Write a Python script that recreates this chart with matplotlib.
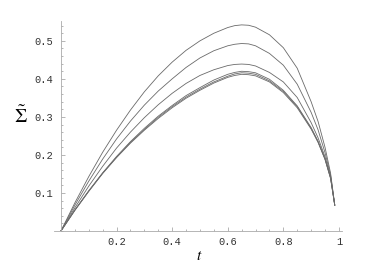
import matplotlib
matplotlib.use("Agg")
import matplotlib.pyplot as plt
from matplotlib.ticker import MultipleLocator

plt.rcParams['mathtext.fontset'] = 'stix'

# values
t = [0, 0.05, 0.1, 0.15, 0.2, 0.25, 0.3, 0.35, 0.4, 0.45, 0.5, 0.55, 0.6,
     0.625, 0.65, 0.675, 0.7, 0.75, 0.8, 0.85, 0.9, 0.925, 0.95, 0.97, 0.985]

s1 = [0, 0.074, 0.143, 0.207, 0.265, 0.318, 0.366, 0.408, 0.444, 0.475, 0.500,
      0.520, 0.535, 0.540, 0.542, 0.541, 0.536, 0.516, 0.482, 0.428, 0.340,
      0.288, 0.220, 0.152, 0.068]
s2 = [0, 0.068, 0.131, 0.189, 0.242, 0.289, 0.331, 0.368, 0.400, 0.430, 0.455,
      0.474, 0.487, 0.491, 0.493, 0.492, 0.487, 0.467, 0.436, 0.386, 0.312,
      0.266, 0.206, 0.147, 0.068]
s3 = [0, 0.061, 0.118, 0.170, 0.218, 0.260, 0.298, 0.332, 0.362, 0.388, 0.409,
      0.424, 0.435, 0.438, 0.439, 0.438, 0.434, 0.417, 0.392, 0.351, 0.285,
      0.245, 0.195, 0.143, 0.068]
s4 = [0, 0.055, 0.106, 0.153, 0.196, 0.235, 0.270, 0.302, 0.330, 0.356, 0.377,
      0.397, 0.412, 0.417, 0.420, 0.419, 0.416, 0.399, 0.370, 0.329, 0.272,
      0.236, 0.190, 0.140, 0.068]
s5 = [0, 0.055, 0.105, 0.152, 0.194, 0.233, 0.267, 0.299, 0.327, 0.352, 0.373,
      0.392, 0.407, 0.413, 0.416, 0.415, 0.412, 0.395, 0.367, 0.327, 0.270,
      0.234, 0.189, 0.139, 0.068]
s6 = [0, 0.054, 0.104, 0.151, 0.193, 0.231, 0.265, 0.296, 0.324, 0.349, 0.370,
      0.389, 0.404, 0.409, 0.412, 0.411, 0.408, 0.392, 0.364, 0.324, 0.268,
      0.233, 0.188, 0.138, 0.068]

fig = plt.figure(figsize=(3.66, 2.74), dpi=100)
ax = fig.add_axes([54 / 366, 43 / 274, 287.7 / 366, 210.3 / 274])

for s in [s1, s2, s3, s4, s5, s6]:
    ax.plot(t, s, color='#6a6a6a', lw=0.6, solid_joinstyle='round')

ax.set_xlim(-0.025, 1.01)
ax.set_ylim(0, 0.553)

ax.spines['top'].set_visible(False)
ax.spines['right'].set_visible(False)
ax.spines['left'].set_position(('data', 0))
for sp in ['left', 'bottom']:
    ax.spines[sp].set_color('#aaaaaa')
    ax.spines[sp].set_linewidth(0.6)

ax.xaxis.set_minor_locator(MultipleLocator(0.05))
ax.yaxis.set_minor_locator(MultipleLocator(0.02))
ax.set_xticks([0.2, 0.4, 0.6, 0.8, 1.0])
ax.set_xticklabels(['0.2', '0.4', '0.6', '0.8', '1'])
ax.set_yticks([0.1, 0.2, 0.3, 0.4, 0.5])
ax.set_yticklabels(['0.1', '0.2', '0.3', '0.4', '0.5'])
ax.tick_params(which='both', direction='in', color='#aaaaaa', width=0.6)
ax.tick_params(which='major', length=2.6)
ax.tick_params(which='minor', length=1.4)
ax.tick_params(axis='x', pad=4.5)
ax.tick_params(axis='y', pad=5.5)
for lab in ax.get_xticklabels() + ax.get_yticklabels():
    lab.set_family('Liberation Mono')
    lab.set_fontsize(7.5)
    lab.set_color('#333333')

fig.text(199 / 366, 1 - 255 / 274, '$t$', ha='center', va='center', fontsize=11)
fig.text(21 / 366, 1 - 116 / 274, r'$\tilde{\Sigma}$', ha='center',
         va='center', fontsize=14)

fig.savefig('out.png', dpi=100)
